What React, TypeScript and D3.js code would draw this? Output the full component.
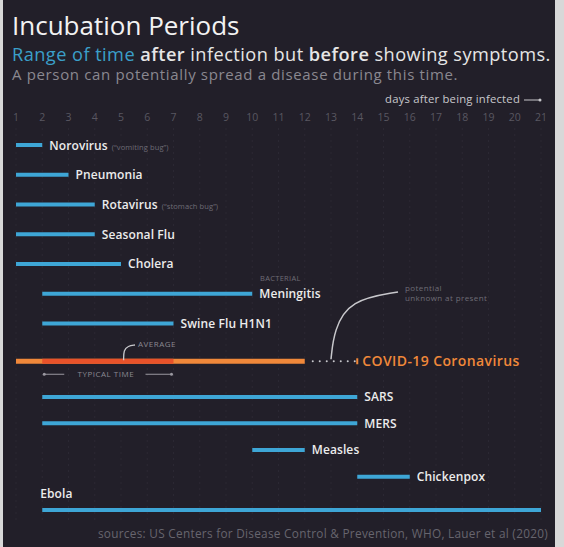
import React from "react";
import * as d3 from "d3";

const diseases = [
  "Norovirus",
  "Pneumonia",
  "Rotavirus",
  "Seasonal Flu",
  "Cholera",
  "Meningitis",
  "Swine Flu H1N1",
  "COVID-19 Coronavirus",
  "SARS",
  "MERS",
  "Measles",
  "Chickenpox",
  "Ebola",
];
const startDays = [1, 1, 1, 1, 1, 2, 2, 1, 2, 2, 10, 14, 2];
const endDays = [2, 3, 4, 4, 5, 10, 7, 12, 14, 14, 12, 16, 21];
const notes = ["(“vomiting bug”)", "", "(“stomach bug”)", "", "", "", "", "", "", "", "", "", ""];
const dayTicks = d3.range(1, 22);
const covidPotentialEnd = 14;
const covidTypical = [2, 7];
const covidAverage = 5.1;

const W = 564;
const H = 547;
const BG = "#221f29";
const BLUE = "#3ea6d6";
const ORANGE = "#f0883a";
const RED = "#e8522a";
const FONT = "'Open Sans', Lato, sans-serif";

export default function App() {
  const x = d3.scaleLinear().domain([1, 21]).range([16, 541]);
  // vertical slot of each row (layout)
  const slots = [0, 1, 2, 3, 4, 5, 6, 7.27, 8.47, 9.35, 10.25, 11.15, 12.27];
  const y = d3.scaleLinear().domain([0, 12.27]).range([145, 510]);
  const covidIdx = diseases.indexOf("COVID-19 Coronavirus");
  const cy = y(slots[covidIdx]);

  const dots = d3.range(x(endDays[covidIdx]) + 8, x(covidPotentialEnd) - 2, 7);

  const curve = d3.line().curve(d3.curveBasis);

  return (
    <div style={{ position: "absolute", left: 0, top: 0 }}>
      <svg width={W} height={H} style={{ display: "block", fontFamily: FONT }}>
        <rect x={0} y={0} width={W} height={H} fill="#d8d8d8" />
        <rect x={3} y={0} width={552} height={H} fill={BG} />

        {/* grid */}
        {dayTicks.map((d) => (
          <line
            key={"g" + d}
            x1={x(d)}
            x2={x(d)}
            y1={128}
            y2={520}
            stroke="#34313c"
            strokeWidth={1}
            strokeDasharray="2,4"
            opacity={0.55}
          />
        ))}

        {/* titles */}
        <text x={12} y={35} fill="#f2f2f2" fontSize={26} fontWeight={400}>
          Incubation Periods
        </text>
        <text x={12} y={61} fontSize={18.2} fill="#e6e6e6" letterSpacing={0.45}>
          <tspan fill="#3b9fc9">Range of time</tspan>
          <tspan fontWeight={600}> after</tspan>
          <tspan> infection but </tspan>
          <tspan fontWeight={600}>before</tspan>
          <tspan> showing symptoms.</tspan>
        </text>
        <text x={12} y={80} fontSize={15} fill="#8a8890" letterSpacing={0.65}>
          A person can potentially spread a disease during this time.
        </text>
        <text x={520} y={103} fontSize={11.3} fill="#c8c8cc" textAnchor="end" letterSpacing={0.2}>
          days after being infected
        </text>
        <line x1={524} x2={540} y1={100} y2={100} stroke="#c8c8cc" strokeWidth={1} />
        <circle cx={540} cy={100} r={1.5} fill="#c8c8cc" />

        {/* ticks */}
        {dayTicks.map((d) => (
          <text key={"t" + d} x={x(d)} y={121} fontSize={10.5} fill="#595761" textAnchor="middle">
            {d}
          </text>
        ))}

        {/* bars */}
        {diseases.map((name, i) => {
          const yy = y(slots[i]);
          if (i === covidIdx) return null;
          const isEbola = name === "Ebola";
          return (
            <g key={name}>
              <line
                x1={x(startDays[i])}
                x2={x(endDays[i])}
                y1={yy}
                y2={yy}
                stroke={BLUE}
                strokeWidth={4}
              />
              <text
                x={isEbola ? x(startDays[i]) - 2 : x(endDays[i]) + 7}
                y={isEbola ? yy - 12 : yy + 4.5}
                fontSize={12}
                fontWeight={600}
                fill="#ececec"
                letterSpacing={0.1}
              >
                {name}
                {notes[i] ? (
                  <tspan fontSize={7.5} fontWeight={400} fill="#6e6c76" dx={4}>
                    {notes[i]}
                  </tspan>
                ) : null}
              </text>
            </g>
          );
        })}

        {/* BACTERIAL */}
        <text x={260} y={281} fontSize={7.5} fill="#6e6c76" letterSpacing={0.3}>
          BACTERIAL
        </text>

        {/* COVID */}
        <line x1={x(startDays[covidIdx])} x2={x(endDays[covidIdx])} y1={cy} y2={cy} stroke={ORANGE} strokeWidth={5} />
        <line x1={x(covidTypical[0])} x2={x(covidTypical[1])} y1={cy} y2={cy} stroke={RED} strokeWidth={5} />
        {dots.map((dx, k) => (
          <circle key={"d" + k} cx={dx} cy={cy} r={1} fill="#c8c8cc" />
        ))}
        <line x1={x(covidPotentialEnd)} x2={x(covidPotentialEnd)} y1={cy - 3} y2={cy + 3} stroke={ORANGE} strokeWidth={2} />
        <text x={x(covidPotentialEnd) + 5} y={cy + 5} fontSize={14} fontWeight={600} fill={ORANGE} letterSpacing={0.4}>
          COVID-19 Coronavirus
        </text>

        {/* potential annotation */}
        <path
          d={curve([
            [331, cy - 2],
            [334, 330],
            [350, 300],
            [398, 292],
          ] as [number, number][]) || ""}
          fill="none"
          stroke="#c8c8cc"
          strokeWidth={1.5}
        />
        <text x={405} y={291} fontSize={8} fill="#6e6c76" letterSpacing={0.4}>
          potential
        </text>
        <text x={405} y={301} fontSize={8} fill="#6e6c76" letterSpacing={0.4}>
          unknown at present
        </text>

        {/* average */}
        <path
          d={curve([
            [x(covidAverage), cy - 1],
            [x(covidAverage), 350],
            [128, 346],
            [135, 345],
          ] as [number, number][]) || ""}
          fill="none"
          stroke="#c8c8cc"
          strokeWidth={1.3}
        />
        <text x={138} y={347} fontSize={8} fill="#8a8890" letterSpacing={0.5}>
          AVERAGE
        </text>

        {/* typical time */}
        <line x1={x(covidTypical[0]) + 2} x2={x(covidTypical[0]) + 22} y1={cy + 13} y2={cy + 13} stroke="#9a98a0" strokeWidth={1} />
        <circle cx={x(covidTypical[0]) + 2} cy={cy + 13} r={1.5} fill="#9a98a0" />
        <line x1={x(covidTypical[1]) - 28} x2={x(covidTypical[1]) - 2} y1={cy + 13} y2={cy + 13} stroke="#9a98a0" strokeWidth={1} />
        <circle cx={x(covidTypical[1]) - 2} cy={cy + 13} r={1.5} fill="#9a98a0" />
        <text
          x={(x(covidTypical[0]) + x(covidTypical[1])) / 2 - 2}
          y={cy + 16}
          fontSize={8}
          fill="#8a8890"
          textAnchor="middle"
          letterSpacing={0.5}
        >
          TYPICAL TIME
        </text>

        {/* footer */}
        <text x={548} y={538} fontSize={11.8} fill="#67656e" textAnchor="end" letterSpacing={0.28}>
          sources: US Centers for Disease Control &amp; Prevention, WHO, Lauer et al (2020)
        </text>
      </svg>
    </div>
  );
}
